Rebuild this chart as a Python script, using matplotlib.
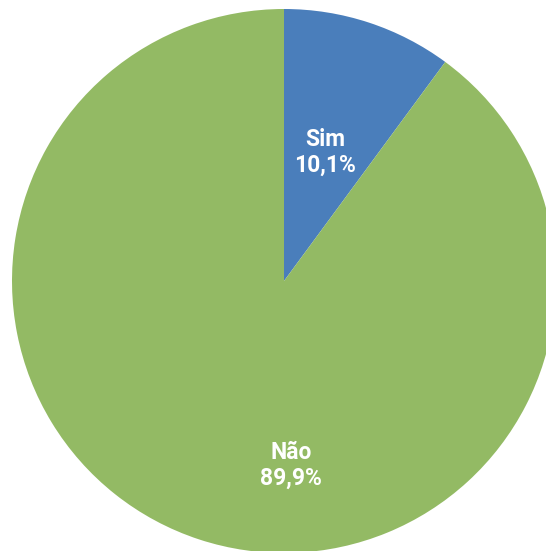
import matplotlib
matplotlib.use("Agg")
import matplotlib.pyplot as plt

categories = ["Sim", "Não"]
values = [10.1, 89.9]
value_labels = ["10,1%", "89,9%"]
colors = ["#4A7EBB", "#93BA64"]

W, H = 546, 551
fig = plt.figure(figsize=(W / 100, H / 100), dpi=100)
ax = fig.add_axes([0, 0, 1, 1])

cx, cy, r = 284, H - 281, 272
ax.pie(values, colors=colors, startangle=90, counterclock=False,
       center=(cx, cy), radius=r, frame=True,
       wedgeprops=dict(linewidth=0))
ax.set_xlim(0, W)
ax.set_ylim(0, H)
ax.axis("off")

label_pos = [(325, H - 152), (291, H - 465)]
for cat, lab, (x, y) in zip(categories, value_labels, label_pos):
    ax.text(x, y, f"{cat}\n{lab}", ha="center", va="center", color="white",
            fontsize=16.5, fontweight="bold", linespacing=1.15,
            family=["Roboto", "DejaVu Sans"])

fig.savefig("out.png", dpi=100)
